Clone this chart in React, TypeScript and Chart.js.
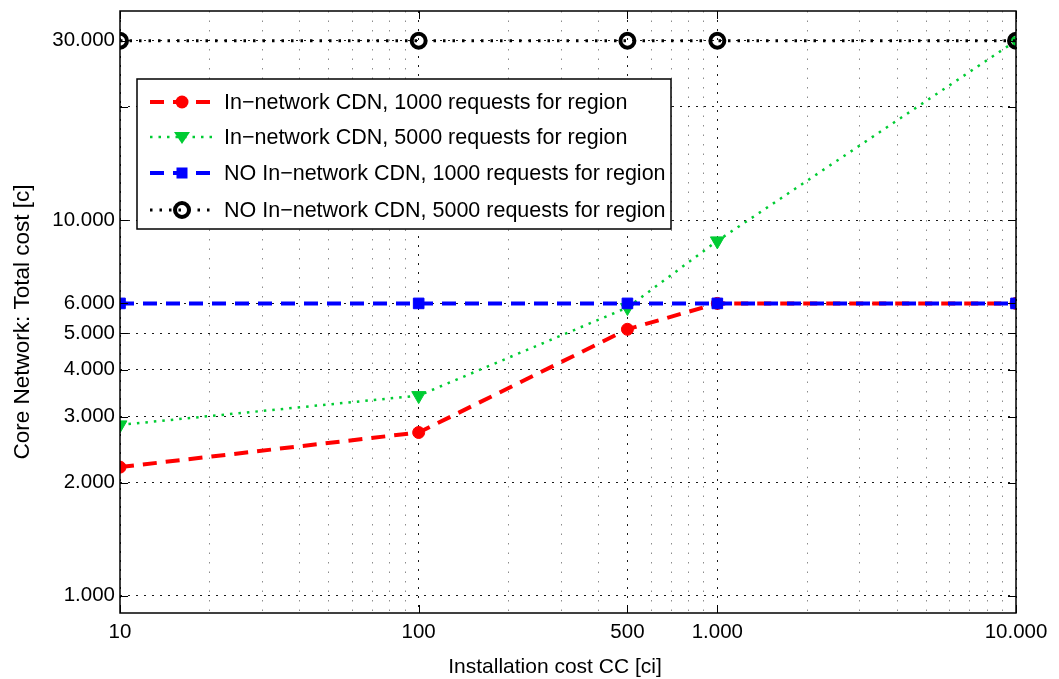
import React, { useEffect, useRef } from "react";
import { Chart, registerables } from "chart.js";

Chart.register(...registerables);

// ---- data ----
const xValues = [10, 100, 500, 1000, 10000];
const inNetwork1000 = [2200, 2720, 5120, 6000, 6000];
const inNetwork5000 = [2850, 3410, 5850, 8800, 30000];
const noInNetwork1000 = [6000, 6000, 6000, 6000, 6000];
const noInNetwork5000 = [30000, 30000, 30000, 30000, 30000];
const seriesLabels = [
  "In\u2212network CDN, 1000 requests for region",
  "In\u2212network CDN, 5000 requests for region",
  "NO In\u2212network CDN, 1000 requests for region",
  "NO In\u2212network CDN, 5000 requests for region",
];
const xGridValues = [
  10, 20, 30, 40, 50, 60, 70, 80, 90,
  100, 200, 300, 400, 500, 600, 700, 800, 900,
  1000, 2000, 3000, 4000, 5000, 6000, 7000, 8000, 9000, 10000,
];
const xLabeledTicks = [10, 100, 500, 1000, 10000];
const yGridValues = [1000, 2000, 3000, 4000, 5000, 6000, 10000, 20000, 30000];
const yLabeledTicks = [1000, 2000, 3000, 4000, 5000, 6000, 10000, 30000];
const xTitle = "Installation cost CC [ci]";
const yTitle = "Core Network: Total cost [c]";

const FONT = '"Liberation Sans", Arial, Helvetica, sans-serif';

const fmt = (v: number) =>
  String(Math.round(v)).replace(/\B(?=(\d{3})+(?!\d))/g, ".");

const toPoints = (ys: number[]) => xValues.map((x, i) => ({ x, y: ys[i] }));

type Style = {
  color: string;
  width: number;
  dash: number[];
  marker: "circle" | "triDown" | "square" | "ring";
};
const styles: Style[] = [
  { color: "#ff0000", width: 4, dash: [14, 9], marker: "circle" },
  { color: "#00cc33", width: 2.5, dash: [2.5, 6], marker: "triDown" },
  { color: "#0000ff", width: 4, dash: [14, 9], marker: "square" },
  { color: "#000000", width: 3, dash: [2.5, 7], marker: "ring" },
];

function drawMarker(ctx: CanvasRenderingContext2D, m: Style["marker"], color: string, x: number, y: number) {
  ctx.save();
  ctx.setLineDash([]);
  ctx.fillStyle = color;
  ctx.strokeStyle = color;
  if (m === "circle") {
    ctx.beginPath();
    ctx.arc(x, y, 6.5, 0, Math.PI * 2);
    ctx.fill();
  } else if (m === "triDown") {
    ctx.beginPath();
    ctx.moveTo(x - 8, y - 5);
    ctx.lineTo(x + 8, y - 5);
    ctx.lineTo(x, y + 7);
    ctx.closePath();
    ctx.fill();
  } else if (m === "square") {
    ctx.fillRect(x - 5.5, y - 5.5, 11, 11);
  } else {
    ctx.lineWidth = 4;
    ctx.beginPath();
    ctx.arc(x, y, 7, 0, Math.PI * 2);
    ctx.stroke();
  }
  ctx.restore();
}

const matlabPlugin = {
  id: "matlabDecor",
  afterDraw(chart: any) {
    const { ctx, chartArea: a, scales } = chart;
    const xs = scales.x;
    const ys = scales.y;
    ctx.save();
    // frame
    ctx.setLineDash([]);
    ctx.strokeStyle = "#000";
    ctx.lineWidth = 1.5;
    ctx.strokeRect(a.left, a.top, a.right - a.left, a.bottom - a.top);
    // inward ticks
    ctx.lineWidth = 1;
    xLabeledTicks.forEach((v) => {
      const px = Math.round(xs.getPixelForValue(v)) + 0.5;
      ctx.beginPath();
      ctx.moveTo(px, a.bottom);
      ctx.lineTo(px, a.bottom - 8);
      ctx.moveTo(px, a.top);
      ctx.lineTo(px, a.top + 8);
      ctx.stroke();
    });
    yGridValues.forEach((v) => {
      const py = Math.round(ys.getPixelForValue(v)) + 0.5;
      ctx.beginPath();
      ctx.moveTo(a.left, py);
      ctx.lineTo(a.left + 8, py);
      ctx.moveTo(a.right, py);
      ctx.lineTo(a.right - 8, py);
      ctx.stroke();
    });

    // legend
    const lx = 137, ly = 79, lw = 534, lh = 150;
    ctx.fillStyle = "#fff";
    ctx.fillRect(lx, ly, lw, lh);
    ctx.strokeStyle = "#000";
    ctx.lineWidth = 1.5;
    ctx.strokeRect(lx, ly, lw, lh);
    const rows = [102, 137, 173, 210];
    ctx.font = `21.5px ${FONT}`;
    ctx.textBaseline = "middle";
    ctx.textAlign = "left";
    styles.forEach((s, i) => {
      const y = rows[i];
      ctx.save();
      ctx.strokeStyle = s.color;
      ctx.lineWidth = s.width;
      ctx.setLineDash(s.dash);
      ctx.beginPath();
      ctx.moveTo(150, y);
      ctx.lineTo(214, y);
      ctx.stroke();
      ctx.restore();
      drawMarker(ctx, s.marker, s.color, 182, y);
      ctx.fillStyle = "#000";
      ctx.fillText(seriesLabels[i], 224, y + 1);
    });

    // axis titles
    ctx.fillStyle = "#000";
    ctx.font = `21px ${FONT}`;
    ctx.textAlign = "center";
    ctx.textBaseline = "alphabetic";
    ctx.fillText(xTitle, (a.left + a.right) / 2 - 13, 673);
    ctx.font = `22.5px ${FONT}`;
    ctx.save();
    ctx.translate(29, 322);
    ctx.rotate(-Math.PI / 2);
    ctx.fillText(yTitle, 0, 0);
    ctx.restore();
    ctx.restore();
  },
};

function makeDataset(i: number, ys: number[], order: number) {
  const s = styles[i];
  const base: any = {
    label: seriesLabels[i],
    data: toPoints(ys),
    borderColor: s.color,
    backgroundColor: s.color,
    borderWidth: s.width,
    borderDash: s.dash,
    tension: 0,
    order,
    pointBorderColor: s.color,
    pointBackgroundColor: s.color,
    pointBorderWidth: 1,
  };
  if (s.marker === "circle") {
    base.pointStyle = "circle";
    base.pointRadius = 6;
  } else if (s.marker === "triDown") {
    base.pointStyle = "triangle";
    base.pointRotation = 180;
    base.pointRadius = 8;
  } else if (s.marker === "square") {
    base.pointStyle = "rect";
    base.pointRadius = 7.5;
  } else {
    base.pointStyle = "circle";
    base.pointRadius = 7;
    base.pointBorderWidth = 4;
    base.pointBackgroundColor = "rgba(0,0,0,0)";
  }
  return base;
}

export default function App() {
  const ref = useRef<HTMLCanvasElement | null>(null);
  useEffect(() => {
    if (!ref.current) return;
    const chart = new Chart(ref.current, {
      type: "line",
      data: {
        datasets: [
          makeDataset(0, inNetwork1000, 3),
          makeDataset(1, inNetwork5000, 2),
          makeDataset(2, noInNetwork1000, 1),
          makeDataset(3, noInNetwork5000, 0),
        ],
      },
      options: {
        animation: false,
        responsive: false,
        devicePixelRatio: 1,
        layout: { padding: { top: 11, right: 43, left: 0, bottom: 0 } },
        plugins: { legend: { display: false }, tooltip: { enabled: false } },
        scales: {
          x: {
            type: "logarithmic",
            min: 10,
            max: 10000,
            afterBuildTicks: (s: any) => {
              s.ticks = xGridValues.map((v) => ({ value: v }));
            },
            afterFit: (s: any) => {
              s.height = 66;
              s.paddingLeft = 0;
              s.paddingRight = 0;
            },
            ticks: {
              autoSkip: false,
              maxRotation: 0,
              minRotation: 0,
              padding: 7,
              color: "#000",
              font: { family: FONT, size: 20.5 },
              callback: (v: any) => (xLabeledTicks.includes(Number(v)) ? fmt(Number(v)) : ""),
            },
            grid: {
              drawTicks: false,
              lineWidth: 1,
              color: (c: any) =>
                xLabeledTicks.includes(c.tick?.value) ? "rgba(0,0,0,0.9)" : "rgba(0,0,0,0.45)",
            },
            border: {
              display: false,
              dash: (c: any) => (xLabeledTicks.includes(c.tick?.value) ? [2, 7] : [1.5, 8]),
            },
          },
          y: {
            type: "logarithmic",
            min: 900,
            max: 36000,
            afterBuildTicks: (s: any) => {
              s.ticks = yGridValues.map((v) => ({ value: v }));
            },
            afterFit: (s: any) => {
              s.width = 120;
              s.paddingTop = 0;
              s.paddingBottom = 0;
            },
            ticks: {
              autoSkip: false,
              padding: 5,
              color: "#000",
              font: { family: FONT, size: 20.5 },
              callback: (v: any) => (yLabeledTicks.includes(Number(v)) ? fmt(Number(v)) : ""),
            },
            grid: {
              drawTicks: false,
              lineWidth: 1,
              color: "rgba(0,0,0,0.9)",
            },
            border: { display: false, dash: [2, 6] },
          },
        },
      },
      plugins: [matlabPlugin],
    } as any);
    return () => chart.destroy();
  }, []);
  return (
    <div style={{ position: "absolute", left: 0, top: 0, width: 1059, height: 679, background: "#fff" }}>
      <canvas ref={ref} width={1059} height={679} style={{ display: "block" }} />
    </div>
  );
}
